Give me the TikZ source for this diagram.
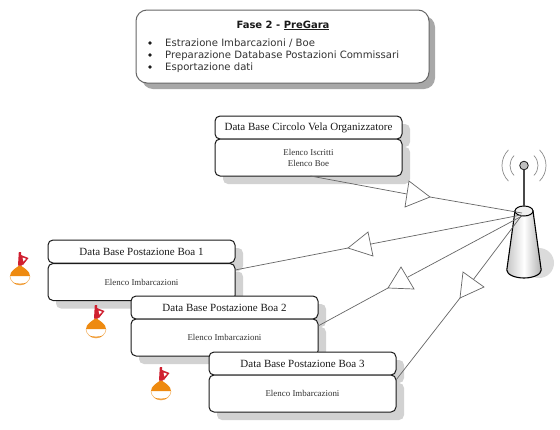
\documentclass[tikz,border=0pt]{standalone}
\usepackage{fontspec}
\setmainfont{Liberation Serif}
\newfontfamily\verd{DejaVu Sans}
\usetikzlibrary{shadows}
\definecolor{ink}{HTML}{1A1A1A}
\definecolor{txt}{HTML}{333333}
\definecolor{shad}{HTML}{D2D2D2}
\definecolor{shadtop}{HTML}{A8A8A8}
\definecolor{buoyor}{HTML}{EE8A10}
\definecolor{buoyred}{HTML}{D02030}
\definecolor{wire}{HTML}{666666}
\tikzset{
  x=1pt,y=-1pt,
  dbbox/.style={draw=ink,line width=1pt,fill=white,rounded corners=5pt,minimum width=187pt,inner sep=0pt,outer sep=0pt,align=center,
    copy shadow={shadow xshift=8pt,shadow yshift=-8pt,fill=shad,draw=none}},
  dbhead/.style={dbbox,minimum height=23pt,font=\fontsize{11}{13}\selectfont,text=ink},
  dbbody/.style={dbbox,minimum height=37pt,font=\fontsize{8.9}{11}\selectfont,text=txt},
  fasebox/.style={draw=wire,line width=1pt,fill=white,rounded corners=11pt,minimum width=293pt,minimum height=73pt,inner sep=0pt,
    copy shadow={shadow xshift=6pt,shadow yshift=-6pt,fill=shadtop,draw=none}},
  fasetext/.style={anchor=west,inner sep=0pt,text=txt,font=\verd\fontsize{10.1}{11}\selectfont},
  fasedot/.style={circle,fill=ink,inner sep=0pt,minimum size=3.6pt},
  link/.style={draw=wire,line width=.7pt},
  tri/.style={draw=wire,line width=.7pt,fill=white,line join=miter},
  buoy/.pic={
    \fill[buoyor] (0,13) .. controls (-4,16) and (-10,19) .. (-10,24) -- (10,24) .. controls (10,19) and (4,16) .. (0,13) -- cycle;
    \draw[buoyor!60,line width=.6pt] (-10,24) .. controls (-10,29) and (-5,33) .. (0,33) .. controls (5,33) and (10,29) .. (10,24);
    \fill[buoyor] (-7,30.5) .. controls (-3,32) and (3,32) .. (7,30.5) .. controls (4,33.5) and (-4,33.5) .. (-7,30.5) -- cycle;
    \fill[buoyred] (-1.2,0) -- (1,0) -- (2,13.5) -- (-2,13.5) -- cycle;
    \fill[buoyred] (1,3) -- (8.5,6) -- (3,13) -- (1,12) -- cycle;
    \fill[white] (2.5,5.5) -- (6,6.8) -- (3.5,9.5) -- cycle;
  }
}
\begin{document}
\begin{tikzpicture}
\useasboundingbox (0,0) rectangle (560,429);
\fill[white] (0,0) rectangle (560,429);

% top box
\node[fasebox] (fase) at (282.5,46.5) {};
\node[inner sep=0pt,text=ink,font=\verd\bfseries\fontsize{10}{11}\selectfont] (fasetitle) at (283,25.5) {Fase 2 - \underline{PreGara}};
\node[fasedot] (d1) at (150,43) {};
\node[fasedot] (d2) at (150,55) {};
\node[fasedot] (d3) at (150,67) {};
\node[fasetext] (l1) at (165,43.5) {Estrazione Imbarcazioni / Boe};
\node[fasetext] (l2) at (165,56) {Preparazione Database Postazioni Commissari};
\node[fasetext] (l3) at (165,68) {Esportazione dati};

% antenna
\fill[shad!80] (539,263) circle[radius=15pt];
\shade[left color=gray!45,right color=gray!60,middle color=white,draw=black,line width=1.1pt]
  (515,211) -- (506.8,270) arc[start angle=180,end angle=360,x radius=17.2pt,y radius=8pt] -- (533,211) -- cycle;
\draw[black,line width=1pt,fill=gray!12] (524,211) ellipse[x radius=9pt,y radius=5pt];
\draw[ink!80,line width=1.2pt] (524,206) -- (524,170);
\draw[ink,line width=.8pt,fill=gray!50] (524,165.5) circle[radius=4.3pt];
\foreach \r in {14,22}{
  \draw[gray!90,line width=.7pt] ([shift={(-45:\r pt)}]524,165.5) arc[start angle=-45,end angle=45,radius=\r pt];
  \draw[gray!90,line width=.7pt] ([shift={(135:\r pt)}]524,165.5) arc[start angle=135,end angle=225,radius=\r pt];
}
\coordinate (ant1) at (522,213);
\coordinate (ant2) at (521,215);
\coordinate (ant3) at (522,216);
\coordinate (ant4) at (522,215);

% Circolo
\node[dbhead] (chead) at (308.5,127.5) {Data Base Circolo Vela Organizzatore};
\node[dbbody] (cbody) at (308.5,157.5) {Elenco Iscritti\\Elenco Boe};
% Boa 1
\node[dbhead] (h1) at (141.5,251.5) {Data Base Postazione Boa 1};
\node[dbbody] (b1) at (141.5,282) {Elenco Imbarcazioni};
% Boa 2
\node[dbhead] (h2) at (224.5,307.5) {Data Base Postazione Boa 2};
\node[dbbody] (b2) at (224.5,337.5) {Elenco Imbarcazioni};
% Boa 3
\node[dbhead] (h3) at (302.5,363.5) {Data Base Postazione Boa 3};
\node[dbbody] (b3) at (302.5,393.5) {Elenco Imbarcazioni};

% buoys
\pic at (20,252) {buoy};
\pic at (96,305) {buoy};
\pic at (161,367) {buoy};

% connectors with open triangles
\coordinate (t1) at (430,197);
\coordinate (t2) at (348,248);
\coordinate (t3) at (388,288);
\coordinate (t4) at (460,298);
\coordinate (m1) at (407,194);
\coordinate (m2) at (371,244);
\coordinate (m3) at (408,277);
\coordinate (m4) at (473,280);

\draw[link] ([xshift=2pt]cbody.south) -- (m1);
\draw[link] (t1) -- (ant1);
\draw[tri] (409,181) -- (t1) -- (405,207) -- cycle;

\draw[link] ([yshift=12pt]b1.east) -- (t2);
\draw[link] (m2) -- (ant2);
\draw[tri] (t2) -- (368,232) -- (373,256) -- cycle;

\draw[link] ([yshift=11.5pt]b2.east) -- (t3);
\draw[link] (m3) -- (ant3);
\draw[tri] (t3) -- (401,267) -- (414,289) -- cycle;

\draw[link] ([yshift=13.5pt]b3.east) -- (t4);
\draw[link] (m4) -- (ant4);
\draw[tri] (t4) -- (463,272) -- (484,287) -- cycle;
\end{tikzpicture}
\end{document}
